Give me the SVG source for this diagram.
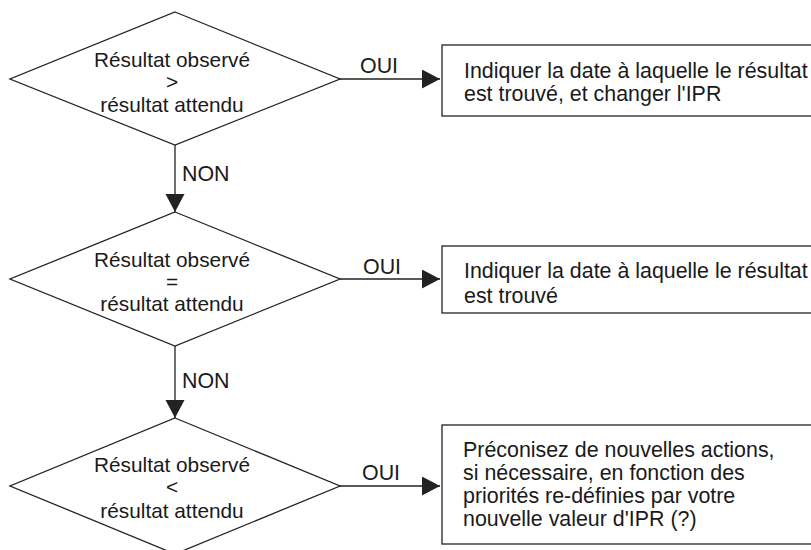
<svg xmlns="http://www.w3.org/2000/svg" width="811" height="550" viewBox="0 0 811 550">
  <defs>
    <style>
      .shape { fill: #ffffff; stroke: #222222; stroke-width: 1.3; }
      .edge { fill: none; stroke: #222222; stroke-width: 1.3; }
      .txt { font-family: "Liberation Sans", Arial, sans-serif; fill: #1a1a1a; }
      .dtxt { font-size: 20.8px; text-anchor: middle; }
      .btxt { font-size: 21.4px; }
      .lbl { font-size: 21.4px; }
    </style>
    <marker id="arrow" markerUnits="userSpaceOnUse" markerWidth="19" markerHeight="20" refX="18" refY="9.5" orient="auto">
      <path d="M0,0 L18,9.5 L0,19 Z" fill="#222222"/>
    </marker>
  </defs>

  <!-- decisions -->
  <g id="decision-gt">
    <polygon class="shape" points="175,12 340,79 175,145 10,79"/>
    <text class="txt dtxt" x="172" y="67">Résultat observé</text>
    <text class="txt dtxt" x="172" y="89">&gt;</text>
    <text class="txt dtxt" x="172" y="112">résultat attendu</text>
  </g>

  <g id="decision-eq">
    <polygon class="shape" points="175,212 340,279 175,346 10,279"/>
    <text class="txt dtxt" x="172" y="267">Résultat observé</text>
    <text class="txt dtxt" x="172" y="289">=</text>
    <text class="txt dtxt" x="172" y="311">résultat attendu</text>
  </g>

  <g id="decision-lt">
    <polygon class="shape" points="175,418 340,486 175,554 10,486"/>
    <text class="txt dtxt" x="172" y="472">Résultat observé</text>
    <text class="txt dtxt" x="172" y="494">&lt;</text>
    <text class="txt dtxt" x="172" y="518">résultat attendu</text>
  </g>

  <!-- actions -->
  <g id="action-gt">
    <rect class="shape" x="442" y="45" width="380" height="71"/>
    <text class="txt btxt" x="464" y="78">Indiquer la date à laquelle le résultat</text>
    <text class="txt btxt" x="464" y="101">est trouvé, et changer l'IPR</text>
  </g>

  <g id="action-eq">
    <rect class="shape" x="442" y="246" width="380" height="67"/>
    <text class="txt btxt" x="464" y="278">Indiquer la date à laquelle le résultat</text>
    <text class="txt btxt" x="464" y="303">est trouvé</text>
  </g>

  <g id="action-lt">
    <rect class="shape" x="442" y="425" width="380" height="119"/>
    <text class="txt btxt" x="463" y="457">Préconisez de nouvelles actions,</text>
    <text class="txt btxt" x="463" y="480">si nécessaire, en fonction des</text>
    <text class="txt btxt" x="463" y="503">priorités re-définies par votre</text>
    <text class="txt btxt" x="463" y="526">nouvelle valeur d'IPR (?)</text>
  </g>

  <!-- connectors -->
  <g id="connectors">
    <line class="edge" x1="340" y1="79" x2="440" y2="79" marker-end="url(#arrow)"/>
    <line class="edge" x1="340" y1="279" x2="440" y2="279" marker-end="url(#arrow)"/>
    <line class="edge" x1="340" y1="486" x2="440" y2="486" marker-end="url(#arrow)"/>
    <line class="edge" x1="175" y1="145" x2="175" y2="212" marker-end="url(#arrow)"/>
    <line class="edge" x1="175" y1="346" x2="175" y2="418" marker-end="url(#arrow)"/>
    <text class="txt lbl" x="360" y="73">OUI</text>
    <text class="txt lbl" x="363" y="274">OUI</text>
    <text class="txt lbl" x="362" y="480">OUI</text>
    <text class="txt lbl" x="182" y="181">NON</text>
    <text class="txt lbl" x="182" y="388">NON</text>
  </g>
</svg>
